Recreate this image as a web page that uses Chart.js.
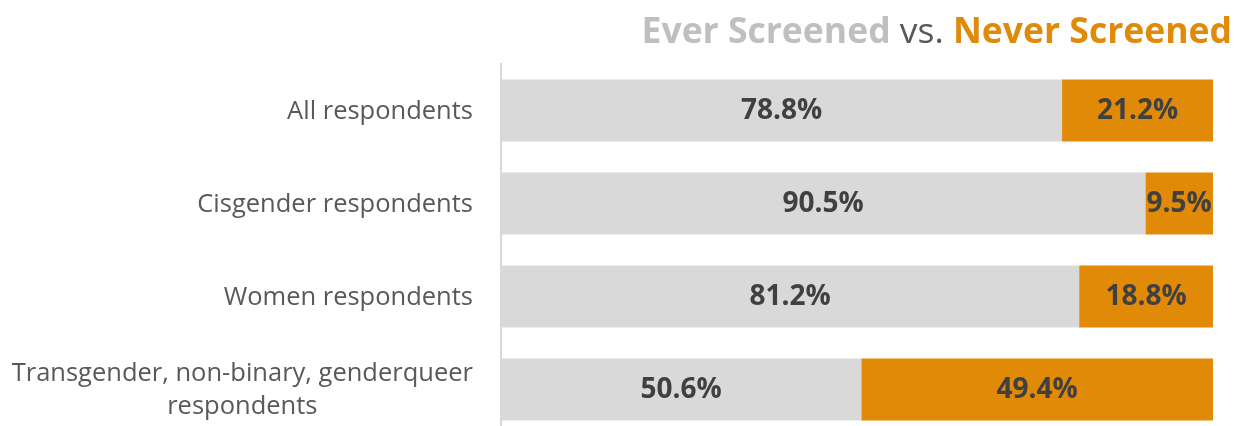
<!DOCTYPE html>
<html>
<head>
<meta charset="utf-8">
<script src="https://cdn.jsdelivr.net/npm/chart.js@4"></script>
<style>
  html, body { margin: 0; padding: 0; background: #fff; overflow: hidden; }
  #wrap { width: 1235px; height: 436px; }
</style>
</head>
<body>
<div id="wrap"><canvas id="chart1"></canvas></div>
<script>
const categories = [
    ["All respondents"],
    ["Cisgender respondents"],
    ["Women respondents"],
    ["Transgender, non-binary, genderqueer", "respondents"]
];
const everScreened = [78.8, 90.5, 81.2, 50.6];
const neverScreened = [21.2, 9.5, 18.8, 49.4];

const grey = "#d9d9d9";
const orange = "#e08a07";
const textColor = "#595959";

// category names on the left, the wrapped one centred on itself
const sideLabels = {
    id: "sideLabels",
    afterDraw(chart) {
        const ctx = chart.ctx;
        const y = chart.scales.y;
        const right = chart.chartArea.left - 28;
        ctx.save();
        ctx.font = "25.5px 'Open Sans'";
        ctx.fillStyle = textColor;
        ctx.textBaseline = "middle";
        ctx.textAlign = "center";
        const lineH = 33;
        categories.forEach((lines, i) => {
            const cy = y.getPixelForValue(i) + 1;
            const widest = Math.max(...lines.map(l => ctx.measureText(l).width));
            const top = cy - (lines.length - 1) * lineH / 2;
            lines.forEach((l, j) => {
                ctx.fillText(l, right - widest / 2, top + j * lineH);
            });
        });
        ctx.restore();
    }
};

// percentages in the middle of each segment
const barValues = {
    id: "barValues",
    afterDatasetsDraw(chart) {
        const ctx = chart.ctx;
        ctx.save();
        ctx.font = "bold 28px 'Open Sans'";
        ctx.fillStyle = "#404040";
        ctx.textAlign = "center";
        ctx.textBaseline = "middle";
        chart.data.datasets.forEach((ds, d) => {
            chart.getDatasetMeta(d).data.forEach((bar, i) => {
                ctx.fillText(ds.data[i].toFixed(1) + "%", (bar.x + bar.base) / 2, bar.y + 1);
            });
        });
        ctx.restore();
    }
};

// two-colour heading, right aligned
const heading = {
    id: "heading",
    afterDraw(chart) {
        const ctx = chart.ctx;
        const parts = [
            { t: "Ever Screened", c: "#bfbfbf", f: "bold 35.5px 'Open Sans'" },
            { t: " vs. ", c: textColor, f: "35.5px 'Open Sans'" },
            { t: "Never Screened", c: orange, f: "bold 35.5px 'Open Sans'" }
        ];
        ctx.save();
        ctx.textBaseline = "alphabetic";
        ctx.textAlign = "left";
        let x = 1232;
        parts.slice().reverse().forEach(p => {
            ctx.font = p.f;
            x -= ctx.measureText(p.t).width;
            p.x = x;
        });
        parts.forEach(p => {
            ctx.font = p.f;
            ctx.fillStyle = p.c;
            ctx.fillText(p.t, p.x, 43);
        });
        ctx.restore();
    }
};

let chart1 = document.getElementById("chart1");

new Chart(chart1, {
    type: 'bar',
    data: {
        labels: categories,
        datasets: [
            {
                label: "Ever Screened",
                data: everScreened,
                backgroundColor: grey,
                barPercentage: 0.667,
                categoryPercentage: 1
            },
            {
                label: "Never Screened",
                data: neverScreened,
                backgroundColor: orange,
                barPercentage: 0.667,
                categoryPercentage: 1
            }
        ]
    },
    options: {
        indexAxis: 'y',
        responsive: true,
        maintainAspectRatio: false,
        animation: false,
        layout: {
            padding: { top: 64, right: 22, left: 0, bottom: 0 }
        },
        plugins: {
            legend: { display: false },
            tooltip: { enabled: false }
        },
        scales: {
            x: {
                display: false,
                stacked: true,
                min: 0,
                max: 100
            },
            y: {
                stacked: true,
                grid: { display: false },
                border: { display: true, color: grey, width: 2 },
                ticks: { display: false },
                afterFit(scale) { scale.width = 501; }
            }
        }
    },
    plugins: [sideLabels, barValues, heading]
});
</script>
</body>
</html>
